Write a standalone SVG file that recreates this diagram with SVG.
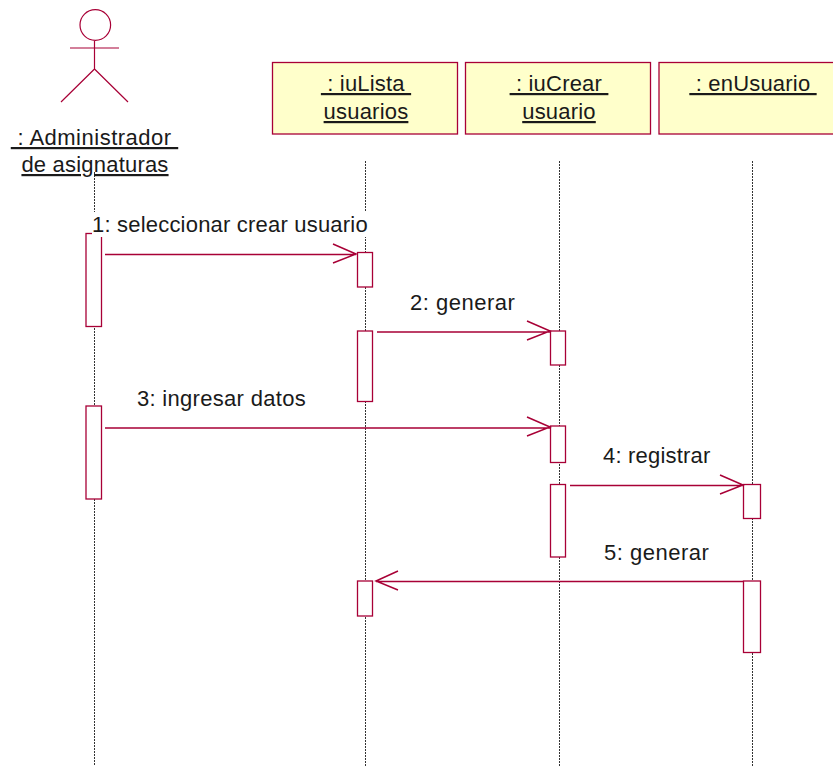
<svg xmlns="http://www.w3.org/2000/svg" width="833" height="766" viewBox="0 0 833 766">
<style>
.s{fill:none;stroke:#a80036;stroke-width:1.2}
.b{fill:#ffffcb;stroke:#a80036;stroke-width:1.3}
.a{fill:#fff;stroke:#a80036;stroke-width:1.3}
.l{stroke:#333;stroke-width:1;stroke-dasharray:2 1;fill:none}
.m{stroke:#a80036;stroke-width:1.5;fill:none}
text{font-family:"Liberation Sans",Arial,sans-serif;font-size:22px;letter-spacing:.2px;fill:#1a1a1a;white-space:pre}
.w{letter-spacing:.5px}
.u{text-decoration:underline;text-anchor:middle}
</style>
<rect width="833" height="766" fill="#fff"/>
<g id="lifelines">
<path class="l" d="M94.500 172V766M365.500 161V766M559.500 161V766M752.500 161V766"/>
</g>
<g id="actor">
<circle class="s" cx="95.300" cy="25" r="15.300"/>
<path class="s" d="M94.500 41V69M70 48H119M94.500 69L61 102M94.500 69L128 102"/>
<text class="u w" x="94.500" y="145" xml:space="preserve"> : Administrador </text>
<text class="u" x="95" y="172">de asignaturas</text>
</g>
<g id="obj-lista">
<rect class="b" x="272.500" y="62.500" width="185" height="71.500"/>
<text class="u" x="366" y="91" xml:space="preserve"> : iuLista </text>
<text class="u" x="366" y="119">usuarios</text>
</g>
<g id="obj-crear">
<rect class="b" x="465.500" y="62.500" width="185" height="71.500"/>
<text class="u" x="559" y="91" xml:space="preserve"> : iuCrear </text>
<text class="u" x="559" y="119">usuario</text>
</g>
<g id="obj-enusuario">
<rect class="b" x="659" y="62.500" width="185" height="71.500"/>
<text class="u" x="753" y="91" xml:space="preserve"> : enUsuario </text>
</g>
<g id="activations">
<rect class="a" x="86" y="233.500" width="15.500" height="93"/>
<rect class="a" x="86" y="406" width="15.500" height="93"/>
<rect class="a" x="357.500" y="252.500" width="15" height="34.500"/>
<rect class="a" x="357.500" y="331" width="15" height="70.500"/>
<rect class="a" x="357.500" y="581" width="15" height="35"/>
<rect class="a" x="550.500" y="331" width="15" height="34"/>
<rect class="a" x="550.500" y="426" width="15" height="36.500"/>
<rect class="a" x="550.500" y="484.500" width="15" height="72.500"/>
<rect class="a" x="743.500" y="484.500" width="17" height="34"/>
<rect class="a" x="743.500" y="581" width="17" height="71.500"/>
</g>
<g id="connectors">
<path class="m" d="M105 254.500H356M333 244L356 254L333 263"/>
<path class="m" d="M377 332H550M527 321L550 331L527 340"/>
<path class="m" d="M105 428H550M527 417L550 427L527 436"/>
<path class="m" d="M570 485.500H743M720 475L743 485L720 494"/>
<path class="m" d="M743 581.500H376M398 571L376 581L398 590"/>
</g>
<g id="labels">
<rect x="92" y="212" width="278" height="25" fill="#fff"/>
<text x="92" y="232">1: seleccionar crear usuario</text>
<text class="w" x="410" y="310">2: generar</text>
<text x="137" y="406" style="letter-spacing:.3px">3: ingresar datos</text>
<text x="603" y="463">4: registrar</text>
<text class="w" x="604" y="560">5: generar</text>
</g>
</svg>
